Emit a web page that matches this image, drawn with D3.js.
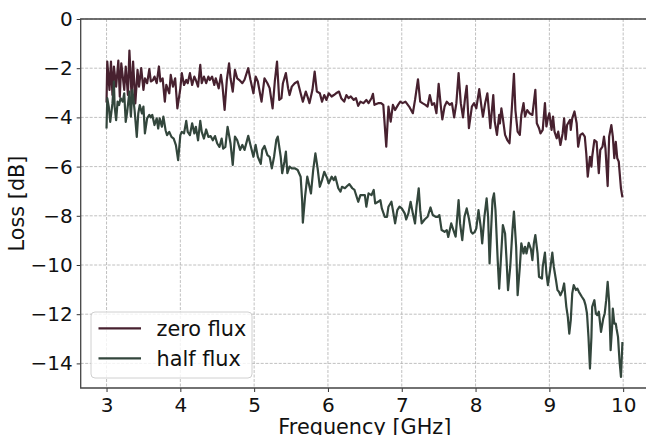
<!DOCTYPE html>
<html>
<head>
<meta charset="utf-8">
<script src="https://cdn.jsdelivr.net/npm/d3@7"></script>
<style>
  body { margin: 0; background: #fff; }
  svg { display: block; font-family: "DejaVu Sans", sans-serif; }
</style>
</head>
<body>
<script>
var zeroFreq = [3.00,3.01,3.04,3.06,3.08,3.10,3.13,3.16,3.18,3.20,3.24,3.26,3.29,3.31,3.34,3.36,3.39,3.42,3.44,3.47,
  3.50,3.52,3.55,3.58,3.60,3.63,3.65,3.68,3.71,3.73,3.76,3.79,3.81,3.85,3.87,3.90,3.93,3.96,4.00,4.02,
  4.05,4.08,4.10,4.13,4.16,4.19,4.21,4.24,4.27,4.29,4.32,4.35,4.38,4.40,4.43,4.46,4.48,4.52,4.55,4.57,
  4.60,4.63,4.66,4.68,4.71,4.74,4.77,4.80,4.84,4.87,4.92,4.95,4.99,5.02,5.05,5.10,5.14,5.18,5.21,5.25,
  5.28,5.31,5.34,5.37,5.39,5.43,5.46,5.48,5.51,5.55,5.59,5.63,5.66,5.70,5.73,5.75,5.79,5.82,5.85,5.89,
  5.92,5.95,5.98,6.01,6.05,6.08,6.11,6.15,6.18,6.22,6.25,6.28,6.31,6.35,6.38,6.41,6.44,6.48,6.52,6.55,
  6.59,6.61,6.63,6.68,6.72,6.75,6.79,6.82,6.85,6.88,6.91,6.95,6.98,7.01,7.05,7.10,7.15,7.18,7.22,7.25,
  7.28,7.32,7.35,7.38,7.41,7.44,7.47,7.50,7.53,7.55,7.58,7.61,7.65,7.68,7.71,7.74,7.77,7.80,7.83,7.86,
  7.88,7.91,7.95,7.98,8.01,8.05,8.08,8.10,8.13,8.16,8.18,8.20,8.24,8.26,8.29,8.32,8.33,8.35,8.37,8.40,
  8.43,8.46,8.49,8.52,8.54,8.57,8.60,8.62,8.65,8.67,8.70,8.73,8.77,8.81,8.83,8.86,8.88,8.91,8.94,8.96,
  8.98,9.00,9.03,9.05,9.07,9.10,9.12,9.15,9.18,9.20,9.22,9.24,9.28,9.29,9.31,9.34,9.37,9.39,9.42,9.45,
  9.48,9.50,9.52,9.55,9.57,9.58,9.61,9.64,9.67,9.69,9.72,9.74,9.76,9.79,9.81,9.84,9.86,9.88,9.90,9.92,
  9.94,9.97,9.99];
var zeroLoss = [-3.40,-1.73,-2.88,-1.73,-3.09,-1.93,-2.75,-1.69,-3.16,-1.80,-2.88,-1.93,-3.09,-1.28,-3.16,-1.73,-3.43,-2.07,-2.75,-2.00,
  -2.88,-2.41,-2.61,-2.04,-2.54,-2.48,-2.34,-2.61,-1.93,-2.54,-2.41,-3.36,-2.68,-3.02,-2.27,-2.75,-2.41,-3.63,-2.82,-2.20,
  -2.68,-2.48,-2.61,-2.20,-2.68,-2.34,-2.48,-2.75,-1.86,-2.61,-2.34,-2.61,-2.34,-2.48,-2.34,-2.68,-2.41,-2.82,-2.27,-2.68,
  -3.70,-2.48,-1.80,-2.41,-2.95,-2.07,-2.41,-2.48,-2.61,-2.47,-2.00,-2.47,-3.02,-2.34,-2.54,-3.36,-2.41,-2.61,-2.81,-3.63,
  -2.54,-1.73,-3.29,-3.22,-2.61,-2.20,-2.81,-3.09,-2.75,-2.61,-2.54,-3.02,-3.36,-2.95,-3.22,-3.42,-2.88,-2.14,-2.95,-3.02,
  -3.36,-3.09,-3.29,-3.02,-3.15,-3.09,-3.02,-2.95,-3.22,-3.36,-3.09,-3.22,-3.15,-3.29,-3.22,-3.53,-3.36,-3.42,-3.29,-3.42,
  -3.22,-3.04,-3.49,-3.42,-3.42,-3.49,-5.19,-3.56,-4.17,-3.49,-3.70,-3.49,-3.36,-3.42,-3.36,-3.56,-3.83,-3.29,-2.45,-3.36,
  -3.42,-3.49,-3.56,-3.09,-3.49,-3.42,-3.83,-2.64,-3.56,-4.08,-3.56,-3.36,-3.49,-3.42,-4.00,-3.42,-2.20,-3.42,-4.00,-3.15,
  -2.72,-4.44,-3.56,-3.42,-3.63,-2.85,-3.56,-3.97,-3.42,-3.02,-3.70,-4.44,-3.09,-4.17,-4.71,-3.90,-4.24,-3.63,-4.04,-4.71,
  -4.92,-5.05,-3.70,-2.23,-3.70,-4.58,-4.71,-3.90,-3.42,-3.97,-3.70,-3.83,-3.90,-2.88,-4.24,-4.44,-4.65,-4.51,-3.42,-4.37,
  -4.04,-3.83,-4.51,-3.97,-4.58,-4.85,-4.58,-5.12,-4.65,-4.04,-4.89,-4.31,-4.10,-4.51,-4.04,-3.76,-4.24,-5.19,-4.71,-4.65,
  -4.78,-5.46,-6.41,-5.60,-6.00,-5.60,-4.92,-4.99,-6.27,-5.32,-5.19,-4.78,-5.26,-6.79,-4.78,-4.31,-4.78,-5.66,-4.99,-5.66,
  -5.80,-6.88,-7.25];

var halfFreq = [3.00,3.01,3.03,3.05,3.08,3.10,3.11,3.13,3.15,3.17,3.19,3.22,3.24,3.26,3.28,3.31,3.33,3.35,3.38,3.41,
  3.43,3.45,3.48,3.50,3.52,3.55,3.58,3.60,3.62,3.65,3.68,3.70,3.72,3.75,3.77,3.80,3.82,3.85,3.88,3.91,
  3.94,3.97,4.00,4.02,4.05,4.08,4.10,4.13,4.16,4.19,4.21,4.24,4.27,4.29,4.32,4.35,4.38,4.41,4.44,4.47,
  4.50,4.53,4.56,4.58,4.61,4.64,4.68,4.71,4.74,4.77,4.81,4.84,4.87,4.92,4.95,4.99,5.02,5.05,5.09,5.11,
  5.14,5.18,5.21,5.24,5.27,5.30,5.32,5.36,5.38,5.41,5.43,5.45,5.48,5.51,5.55,5.59,5.63,5.65,5.66,5.69,
  5.72,5.74,5.77,5.80,5.83,5.86,5.89,5.92,5.95,5.99,6.01,6.05,6.08,6.10,6.14,6.17,6.19,6.23,6.26,6.29,
  6.33,6.36,6.41,6.44,6.47,6.50,6.52,6.55,6.59,6.62,6.64,6.68,6.71,6.73,6.77,6.80,6.82,6.86,6.88,6.91,
  6.94,6.97,7.00,7.04,7.06,7.09,7.12,7.15,7.18,7.20,7.23,7.25,7.27,7.31,7.35,7.39,7.42,7.46,7.49,7.51,
  7.54,7.58,7.61,7.63,7.67,7.70,7.73,7.77,7.79,7.82,7.85,7.88,7.91,7.94,7.96,7.99,8.01,8.04,8.07,8.09,
  8.12,8.15,8.17,8.19,8.21,8.23,8.25,8.27,8.30,8.32,8.34,8.37,8.40,8.42,8.44,8.47,8.50,8.52,8.55,8.57,
  8.60,8.62,8.65,8.67,8.69,8.72,8.75,8.77,8.79,8.81,8.84,8.86,8.90,8.91,8.94,8.96,8.98,9.01,9.04,9.06,
  9.09,9.11,9.13,9.15,9.18,9.20,9.23,9.25,9.27,9.29,9.31,9.33,9.36,9.38,9.40,9.44,9.47,9.49,9.51,9.53,
  9.55,9.57,9.58,9.61,9.63,9.65,9.67,9.70,9.73,9.75,9.77,9.79,9.81,9.83,9.85,9.86,9.88,9.90,9.91,9.93,
  9.95,9.97,9.99];
var halfLoss = [-4.45,-3.22,-3.56,-4.18,-3.43,-2.54,-3.56,-4.11,-3.36,-3.50,-3.22,-3.36,-3.02,-4.18,-3.77,-2.95,-3.97,-2.88,-3.70,-4.79,
  -3.84,-3.50,-3.84,-3.56,-4.65,-4.04,-3.90,-4.00,-3.90,-4.31,-4.04,-4.45,-4.04,-4.38,-3.97,-4.52,-4.72,-4.59,-4.79,-4.86,
  -5.13,-5.74,-4.72,-4.59,-4.65,-4.14,-4.59,-4.72,-4.24,-4.65,-4.38,-4.93,-4.14,-4.59,-4.86,-4.49,-4.79,-4.76,-4.93,-4.76,
  -5.06,-5.20,-4.86,-5.27,-5.20,-4.38,-5.06,-5.93,-4.78,-4.92,-5.32,-5.12,-5.32,-4.75,-5.12,-5.60,-5.12,-5.60,-5.89,-5.32,
  -5.16,-5.53,-5.60,-6.07,-5.60,-4.92,-4.78,-5.60,-6.27,-5.80,-5.39,-6.27,-6.00,-6.07,-6.07,-6.14,-6.41,-7.36,-8.28,-7.22,
  -6.41,-6.68,-7.09,-6.14,-5.46,-6.07,-6.82,-6.55,-6.21,-6.48,-6.68,-6.41,-6.55,-6.41,-6.88,-7.02,-6.82,-6.88,-6.79,-6.71,
  -6.88,-6.95,-7.43,-7.16,-7.16,-7.16,-7.63,-7.09,-7.16,-6.95,-7.50,-7.43,-7.36,-7.70,-8.04,-8.04,-7.63,-7.43,-7.77,-8.31,
  -7.77,-7.63,-7.70,-7.90,-8.15,-7.90,-7.43,-7.90,-8.31,-7.63,-6.88,-7.77,-8.31,-8.15,-8.04,-7.66,-7.97,-8.04,-8.04,-7.97,
  -8.58,-8.65,-8.58,-8.86,-8.31,-8.58,-8.85,-7.36,-8.31,-8.99,-8.04,-7.70,-8.11,-8.65,-8.72,-8.65,-8.51,-7.77,-8.45,-9.12,
  -8.04,-7.29,-8.04,-9.94,-8.60,-7.36,-7.09,-7.77,-9.80,-10.96,-9.94,-8.38,-8.72,-9.80,-11.02,-10.07,-8.58,-7.83,-9.26,-11.23,
  -10.07,-9.12,-9.53,-9.26,-9.53,-9.10,-9.35,-9.80,-9.12,-8.78,-9.53,-10.48,-10.55,-10.07,-9.50,-10.34,-10.82,-10.21,-9.50,-10.07,
  -10.62,-11.02,-11.09,-11.23,-11.02,-10.75,-11.70,-12.11,-12.79,-12.24,-11.16,-10.82,-11.02,-10.96,-11.09,-11.29,-11.43,-11.63,-11.97,-12.92,
  -14.21,-12.92,-11.70,-11.43,-11.97,-12.04,-11.90,-12.72,-12.18,-11.97,-11.43,-10.68,-11.50,-13.46,-12.52,-11.77,-12.38,-12.38,-12.58,-12.92,
  -13.87,-14.55,-13.13];

var seriesNames = ["zero flux", "half flux"];
var seriesColors = ["#47212f", "#33463c"];
var xTicks = [3, 4, 5, 6, 7, 8, 9, 10];
var yTicks = [0, -2, -4, -6, -8, -10, -12, -14];

var w = 646, h = 435;
var mLeft = 80.7, mTop = 19, mRight = 649, mBottom = 388;

var svg = d3.select("body").append("svg")
    .attr("width", w)
    .attr("height", h);

var x = d3.scaleLinear().domain([2.65, 10.35]).range([mLeft, mRight]);
var y = d3.scaleLinear().domain([-15, 0]).range([mBottom, mTop]);

// grid
var grid = svg.append("g");
grid.selectAll(".gx").data(xTicks).enter().append("line")
    .attr("x1", d => x(d)).attr("x2", d => x(d))
    .attr("y1", mTop).attr("y2", mBottom);
grid.selectAll(".gy").data(yTicks).enter().append("line")
    .attr("y1", d => y(d)).attr("y2", d => y(d))
    .attr("x1", mLeft).attr("x2", mRight);
grid.selectAll("line")
    .attr("stroke", "#b0b0b0")
    .attr("stroke-width", 0.8)
    .attr("stroke-dasharray", "3,1.5");

// lines
var line = d3.line().x(d => x(d[0])).y(d => y(d[1]));
var series = [d3.zip(zeroFreq, zeroLoss), d3.zip(halfFreq, halfLoss)];
svg.selectAll(".series").data(series).enter().append("path")
    .attr("d", line)
    .attr("fill", "none")
    .attr("stroke", (d, i) => seriesColors[i])
    .attr("stroke-width", 2.2)
    .attr("stroke-linejoin", "round");

// axes
var fmt = d3.format("d");
var xAxis = svg.append("g")
    .attr("transform", "translate(0," + mBottom + ")")
    .call(d3.axisBottom(x).tickValues(xTicks).tickFormat(fmt).tickSize(4).tickPadding(4));
var yAxis = svg.append("g")
    .attr("transform", "translate(" + mLeft + ",0)")
    .call(d3.axisLeft(y).tickValues(yTicks).tickFormat(fmt).tickSize(4).tickPadding(4));

[xAxis, yAxis].forEach(function(a) {
  a.select(".domain").remove();
  a.selectAll(".tick line").attr("stroke", "#333").attr("stroke-width", 1);
  a.selectAll("text")
    .attr("fill", "#111")
    .style("font-size", "20px")
    .style("font-family", "DejaVu Sans");
});
xAxis.selectAll("text").attr("dy", "0.78em");

// spines (right one falls outside the window)
svg.append("path")
    .attr("d", "M" + mRight + "," + mTop + "H" + mLeft + "V" + mBottom + "H" + mRight)
    .attr("fill", "none")
    .attr("stroke", "#444")
    .attr("stroke-width", 1.3);

// axis labels
svg.append("text")
    .attr("x", (mLeft + mRight) / 2)
    .attr("y", 434)
    .attr("text-anchor", "middle")
    .style("font-size", "20.8px")
    .attr("fill", "#111")
    .text("Frequency [GHz]");
svg.append("text")
    .attr("transform", "translate(24," + (mTop + mBottom) / 2 + ") rotate(-90)")
    .attr("text-anchor", "middle")
    .style("font-size", "20.8px")
    .attr("fill", "#111")
    .text("Loss [dB]");

// legend
var lg = svg.append("g");
lg.append("rect")
    .attr("x", 91).attr("y", 312)
    .attr("width", 161).attr("height", 66)
    .attr("rx", 4)
    .attr("fill", "#fff").attr("fill-opacity", 0.8)
    .attr("stroke", "#d0d0d0");
var items = lg.selectAll(".item").data(seriesNames).enter().append("g")
    .attr("transform", (d, i) => "translate(0," + (328.3 + i * 30) + ")");
items.append("line")
    .attr("x1", 98.5).attr("x2", 141)
    .attr("stroke", (d, i) => seriesColors[i])
    .attr("stroke-width", 2.2);
items.append("text")
    .attr("x", 156.5).attr("y", 7.5)
    .style("font-size", "20.8px")
    .attr("fill", "#111")
    .text(d => d);
</script>
</body>
</html>
